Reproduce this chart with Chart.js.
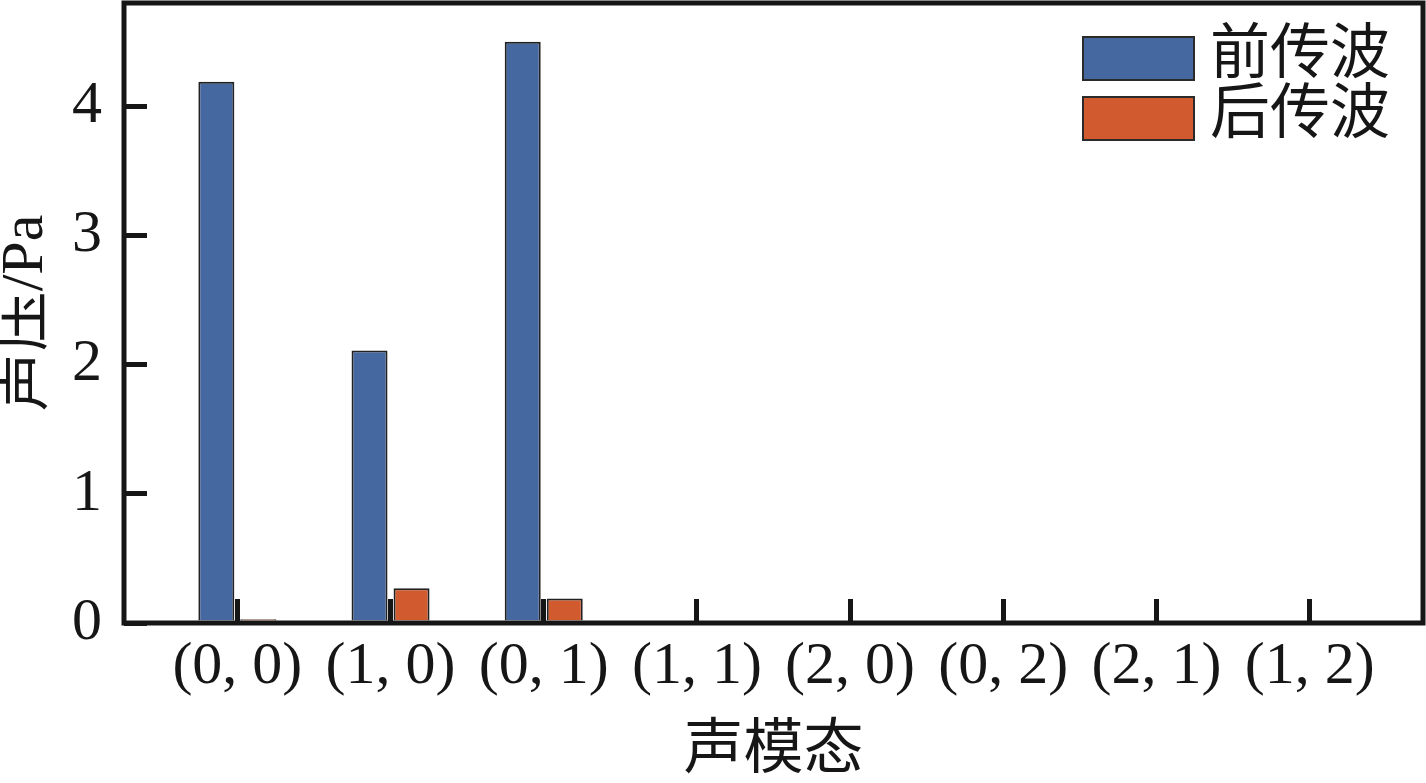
<!DOCTYPE html>
<html>
<head>
<meta charset="utf-8">
<script src="https://cdn.jsdelivr.net/npm/chart.js@4/dist/chart.umd.min.js"></script>
<style>
  html, body { margin: 0; padding: 0; background: #ffffff; }
  #wrap { width: 1426px; height: 783px; }
</style>
</head>
<body>
<div id="wrap"><canvas id="c" width="1426" height="783"></canvas></div>
<script>
// ---- data ----
const categories = ['(0, 0)', '(1, 0)', '(0, 1)', '(1, 1)', '(2, 0)', '(0, 2)', '(2, 1)', '(1, 2)'];
const forwardWave = [4.19, 2.11, 4.50, 0, 0, 0, 0, 0];
const backwardWave = [0.03, 0.27, 0.19, 0, 0, 0, 0, 0];
const seriesNames = ['前传波', '后传波'];
const yTicks = [0, 1, 2, 3, 4];
const xTitle = '声模态';
const yTitle = '声压/Pa';

const FONT = "'Liberation Serif', 'Noto Sans CJK SC', serif";
const INK = '#161616';
const BLUE = '#4568A1';
const ORANGE = '#D15A2F';

const toPoints = arr => arr.map((v, i) => ({ x: i + 1, y: v }));

const framePlugin = {
  id: 'frame',
  afterDatasetsDraw(chart) {
    const { ctx, chartArea: a } = chart;
    ctx.save();
    ctx.strokeStyle = INK;
    ctx.lineWidth = 5;
    ctx.strokeRect(a.left, a.top, a.right - a.left, a.bottom - a.top);
    ctx.restore();
  }
};

const legendPlugin = {
  id: 'insideLegend',
  afterDraw(chart) {
    const { ctx, chartArea: a } = chart;
    const boxW = 111, boxH = 43;
    const x0 = a.right - 340;
    const rows = [34, 94];
    ctx.save();
    chart.data.datasets.forEach((ds, i) => {
      const y = a.top + rows[i];
      ctx.fillStyle = ds.backgroundColor;
      ctx.fillRect(x0, y, boxW, boxH);
      ctx.strokeStyle = '#2a2a2a';
      ctx.lineWidth = 2;
      ctx.strokeRect(x0, y, boxW, boxH);
      ctx.fillStyle = INK;
      ctx.font = "60px " + FONT;
      ctx.textBaseline = 'middle';
      ctx.textAlign = 'left';
      ctx.fillText(ds.label, x0 + 127, y + boxH / 2 - 1);
    });
    ctx.restore();
  }
};

new Chart(document.getElementById('c'), {
  type: 'bar',
  data: {
    datasets: [
      { label: seriesNames[0], data: toPoints(forwardWave), backgroundColor: BLUE,
        borderColor: '#222222', borderWidth: 2 },
      { label: seriesNames[1], data: toPoints(backwardWave), backgroundColor: ORANGE,
        borderColor: '#222222', borderWidth: 2 }
    ]
  },
  plugins: [framePlugin, legendPlugin],
  options: {
    responsive: false,
    animation: false,
    devicePixelRatio: 1,
    categoryPercentage: 0.5485,
    barPercentage: 0.857,
    layout: { padding: { top: 3, right: 3, left: 0, bottom: 0 } },
    plugins: {
      legend: { display: false },
      tooltip: { enabled: false }
    },
    scales: {
      x: {
        type: 'linear',
        min: 0.26,
        max: 8.74,
        offset: false,
        afterBuildTicks: axis => { axis.ticks = categories.map((_, i) => ({ value: i + 1 })); },
        afterFit: axis => {
          axis.height = 160;
          axis.paddingLeft = 0; axis.paddingRight = 0;
          axis.paddingTop = 0; axis.paddingBottom = 0;
        },
        border: { display: false },
        grid: {
          offset: false,
          drawOnChartArea: false,
          drawTicks: true,
          tickLength: -24,
          tickWidth: 5,
          lineWidth: 5,
          tickColor: INK,
          color: INK
        },
        ticks: {
          autoSkip: false,
          maxRotation: 0,
          minRotation: 0,
          padding: 32,
          color: INK,
          font: { family: FONT, size: 60 },
          callback: v => categories[Math.round(v) - 1]
        },
        title: {
          display: true,
          text: xTitle,
          color: INK,
          font: { family: FONT, size: 60, lineHeight: 1 },
          padding: { top: 0, bottom: 1 }
        }
      },
      y: {
        min: 0,
        max: 4.8,
        afterBuildTicks: axis => { axis.ticks = yTicks.map(v => ({ value: v })); },
        afterFit: axis => {
          axis.width = 124;
          axis.paddingLeft = 0; axis.paddingRight = 0;
          axis.paddingTop = 0; axis.paddingBottom = 0;
        },
        border: { display: false },
        grid: {
          drawOnChartArea: false,
          drawTicks: true,
          tickLength: -23,
          tickWidth: 5,
          lineWidth: 5,
          tickColor: INK,
          color: INK
        },
        ticks: {
          padding: 45,
          color: INK,
          font: { family: FONT, size: 60 },
          callback: v => String(v)
        },
        title: {
          display: true,
          text: yTitle,
          color: INK,
          font: { family: FONT, size: 60, lineHeight: 0.87 },
          padding: { top: 0, bottom: 0 }
        }
      }
    }
  }
});
</script>
</body>
</html>
